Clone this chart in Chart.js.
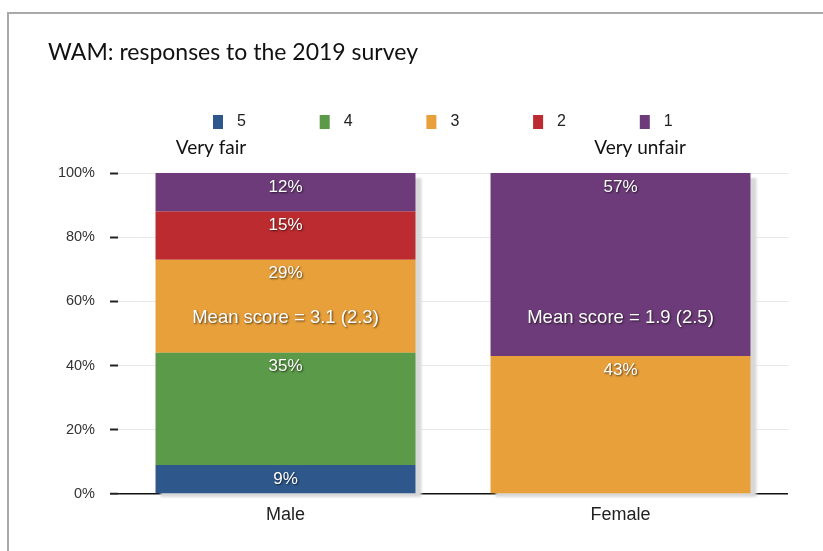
<!DOCTYPE html>
<html>
<head>
<meta charset="utf-8">
<script src="https://cdn.jsdelivr.net/npm/chart.js@4/dist/chart.umd.min.js"></script>
<style>
  html, body { margin: 0; padding: 0; background: #fff; }
  #wrap { position: relative; width: 823px; height: 551px; overflow: hidden; }
  #frame { position: absolute; left: 7px; top: 12px; right: -4px; bottom: -4px;
           border-top: 2px solid #a9a9a9; border-left: 2px solid #a9a9a9; pointer-events: none; }
  canvas { position: absolute; left: 0; top: 0; }
</style>
</head>
<body>
<div id="wrap">
  <canvas id="chart" width="823" height="551"></canvas>
  <div id="frame"></div>
</div>
<script>
// Survey categories and response shares (%), one array per score
const categories = ['Male', 'Female'];
const scoreLabels = ['5', '4', '3', '2', '1'];
const score5 = [9, null];
const score4 = [35, null];
const score3 = [29, 43];
const score2 = [15, null];
const score1 = [12, 57];
const meanLabels = ['Mean score = 3.1 (2.3)', 'Mean score = 1.9 (2.5)'];
const meanLabelLevel = 55;   // y value where the mean-score text sits
const yTickValues = [0, 20, 40, 60, 80, 100];
const chartTitle = 'WAM: responses to the 2019 survey';
const scaleEnds = ['Very fair', 'Very unfair'];

const colors = ['#2e588c', '#5b9a48', '#e8a03b', '#bc2b2f', '#6d3b79'];
const seriesValues = [score5, score4, score3, score2, score1];

const SANS = '"Liberation Sans", Arial, Helvetica, sans-serif';
const HUMAN = 'Lato, "Open Sans", sans-serif';

// Soft grey drop shadow behind every full stack
const stackShadow = {
  id: 'stackShadow',
  beforeDatasetsDraw(chart) {
    const { ctx, scales: { x, y } } = chart;
    const meta = chart.getDatasetMeta(0);
    ctx.save();
    ctx.fillStyle = '#d8d8d8';
    ctx.filter = 'blur(1px)';
    categories.forEach((c, i) => {
      const total = seriesValues.reduce((s, arr) => s + (arr[i] || 0), 0);
      const w = meta.data[i].width;
      const cx = x.getPixelForValue(i);
      const top = y.getPixelForValue(total);
      const bottom = y.getPixelForValue(0);
      ctx.fillRect(cx - w / 2 + 5, top + 5, w + 1, bottom - top - 2);
    });
    ctx.restore();
  }
};

// White percentage labels near the top of each segment, plus mean scores
const segmentLabels = {
  id: 'segmentLabels',
  afterDatasetsDraw(chart) {
    const { ctx, scales: { x, y } } = chart;
    ctx.save();
    ctx.fillStyle = '#ffffff';
    ctx.shadowColor = 'rgba(0,0,0,0.65)';
    ctx.shadowOffsetX = 1;
    ctx.shadowOffsetY = 1;
    ctx.shadowBlur = 2;
    ctx.textAlign = 'center';
    ctx.textBaseline = 'middle';
    ctx.font = '17px ' + SANS;
    chart.data.datasets.forEach((ds, di) => {
      const meta = chart.getDatasetMeta(di);
      meta.data.forEach((bar, i) => {
        const v = ds.data[i];
        if (!v) return;
        ctx.fillText(v + '%', bar.x, bar.y + 14);
      });
    });
    ctx.font = '18.5px ' + SANS;
    meanLabels.forEach((t, i) => {
      ctx.fillText(t, x.getPixelForValue(i), y.getPixelForValue(meanLabelLevel));
    });
    ctx.restore();
  }
};

// Title, legend row and the scale-end captions
const headerPlugin = {
  id: 'header',
  afterDraw(chart) {
    const { ctx } = chart;
    ctx.save();
    ctx.fillStyle = '#111';
    ctx.textBaseline = 'middle';
    ctx.textAlign = 'left';
    ctx.font = '23px ' + HUMAN;
    ctx.fillText(chartTitle, 48, 53);

    ctx.font = '16px ' + SANS;
    chart.data.datasets.forEach((ds, i) => {
      const bx = 213 + i * 106.7;
      ctx.fillStyle = ds.backgroundColor;
      ctx.fillRect(bx, 115, 10, 14);
      ctx.fillStyle = '#222';
      ctx.fillText(ds.label, bx + 24, 122);
    });

    ctx.font = '19px ' + HUMAN;
    ctx.fillStyle = '#111';
    ctx.textAlign = 'center';
    ctx.fillText(scaleEnds[0], 211, 148);
    ctx.fillText(scaleEnds[1], 640, 148);
    ctx.restore();
  }
};

new Chart(document.getElementById('chart'), {
  type: 'bar',
  data: {
    labels: categories,
    datasets: scoreLabels.map((lab, i) => ({
      label: lab,
      data: seriesValues[i],
      backgroundColor: colors[i],
      borderWidth: 0,
      categoryPercentage: 1,
      barPercentage: 0.776
    }))
  },
  options: {
    responsive: false,
    animation: false,
    layout: { padding: { left: 0, top: 173, right: 35, bottom: 0 } },
    plugins: {
      legend: { display: false },
      title: { display: false },
      tooltip: { enabled: false }
    },
    scales: {
      x: {
        stacked: true,
        grid: { display: false, drawTicks: false },
        border: { display: false },
        ticks: { font: { size: 18, family: SANS }, color: '#222', padding: 10 },
        afterFit(scale) { scale.height = 57; }
      },
      y: {
        stacked: true,
        min: 0,
        max: 100,
        afterBuildTicks(scale) { scale.ticks = yTickValues.map(v => ({ value: v })); },
        ticks: {
          callback: v => v + '%',
          font: { size: 14.5, family: SANS },
          color: '#333',
          padding: 15
        },
        grid: {
          color: ctx => (ctx.tick && ctx.tick.value === 0) ? '#111' : '#e8e8e8',
          lineWidth: ctx => (ctx.tick && ctx.tick.value === 0) ? 1.5 : 1,
          tickColor: '#222',
          tickLength: 8,
          tickWidth: 2
        },
        border: { display: false },
        afterFit(scale) { scale.width = 118; }
      }
    }
  },
  plugins: [stackShadow, segmentLabels, headerPlugin]
});
</script>
</body>
</html>
